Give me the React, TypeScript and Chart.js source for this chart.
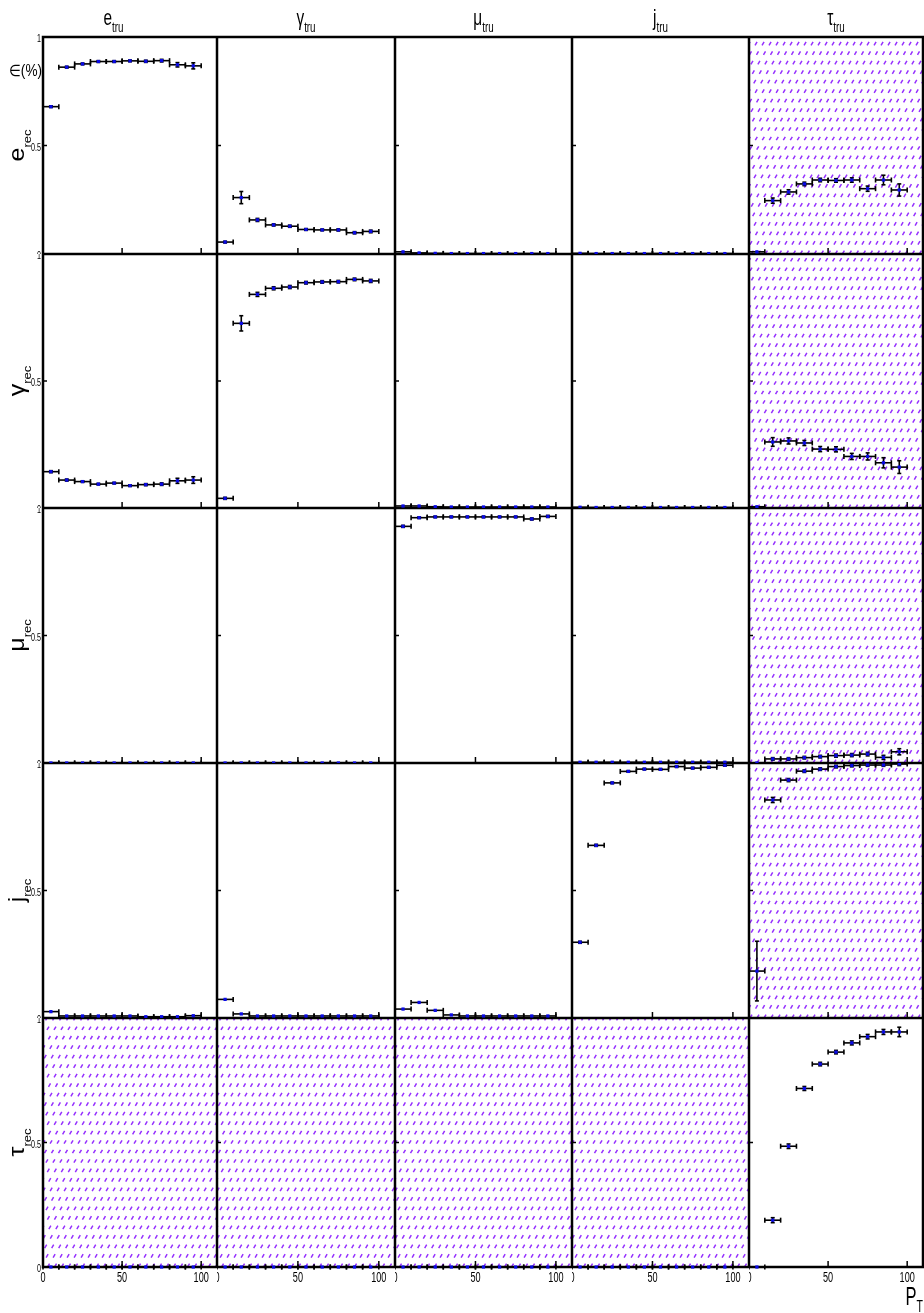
import React, { useEffect, useRef } from 'react';
import { Chart, registerables } from 'chart.js';

Chart.register(...registerables);

// ---------------- data ----------------
const PARTICLES = ['e', 'γ', 'μ', 'j', 'τ'];
const BIN_CENTERS = [5, 15, 25, 35, 45, 55, 65, 75, 85, 95];
const BIN_HALF_WIDTH = 5;
const X_TICKS = [0, 50, 100];
const Y_TICKS = [0, 0.5, 1];

// e_rec
const E_REC_E_TRU = [0.679, 0.861, 0.876, 0.887, 0.887, 0.89, 0.888, 0.891, 0.872, 0.867];
const E_REC_G_TRU = [0.055, 0.26, 0.157, 0.134, 0.128, 0.113, 0.111, 0.111, 0.098, 0.104];
const E_REC_M_TRU = [0.01, 0.005, 0.003, 0.002, 0.002, 0.002, 0.002, 0.002, 0.002, 0.002];
const E_REC_J_TRU = [0.003, 0.002, 0.002, 0.002, 0.002, 0.002, 0.002, 0.002, 0.002, 0.002];
const E_REC_T_TRU = [0.01, 0.246, 0.286, 0.323, 0.341, 0.339, 0.341, 0.301, 0.341, 0.295];
// gamma_rec
const G_REC_E_TRU = [0.143, 0.11, 0.104, 0.094, 0.098, 0.088, 0.092, 0.094, 0.107, 0.11];
const G_REC_G_TRU = [0.038, 0.727, 0.841, 0.865, 0.87, 0.887, 0.89, 0.891, 0.9, 0.894];
const G_REC_M_TRU = [0.008, 0.008, 0.005, 0.004, 0.004, 0.004, 0.004, 0.004, 0.004, 0.004];
const G_REC_J_TRU = [0.003, 0.002, 0.002, 0.002, 0.002, 0.002, 0.002, 0.002, 0.002, 0.002];
const G_REC_T_TRU = [0.005, 0.26, 0.264, 0.256, 0.232, 0.231, 0.203, 0.203, 0.178, 0.161];
// mu_rec
const M_REC_E_TRU = [0, 0, 0, 0, 0, 0, 0, 0, 0, 0];
const M_REC_G_TRU = [0, 0, 0, 0, 0, 0, 0, 0, 0, 0];
const M_REC_M_TRU = [0.928, 0.962, 0.965, 0.965, 0.965, 0.965, 0.965, 0.965, 0.957, 0.967];
const M_REC_J_TRU = [0.003, 0.003, 0.003, 0.003, 0.003, 0.003, 0.003, 0.003, 0.003, 0.003];
const M_REC_T_TRU = [0, 0.016, 0.016, 0.021, 0.025, 0.029, 0.031, 0.035, 0.022, 0.044];
// j_rec
const J_REC_E_TRU = [0.025, 0.008, 0.008, 0.008, 0.008, 0.008, 0.005, 0.005, 0.005, 0.009];
const J_REC_G_TRU = [0.073, 0.016, 0.008, 0.008, 0.008, 0.008, 0.008, 0.008, 0.008, 0.008];
const J_REC_M_TRU = [0.035, 0.061, 0.03, 0.012, 0.008, 0.008, 0.008, 0.008, 0.008, 0.008];
const J_REC_J_TRU = [0.297, 0.677, 0.922, 0.967, 0.976, 0.975, 0.986, 0.98, 0.983, 0.991];
const J_REC_T_TRU = [0.184, 0.855, 0.933, 0.968, 0.976, 0.986, 0.99, 0.992, 0.992, 0.996];
// tau_rec
const T_REC_E_TRU = [0, 0, 0, 0, 0, 0, 0, 0, 0, 0];
const T_REC_G_TRU = [0, 0, 0, 0, 0, 0, 0, 0, 0, 0];
const T_REC_M_TRU = [0, 0, 0, 0, 0, 0, 0, 0, 0, 0];
const T_REC_J_TRU = [0, 0, 0, 0, 0, 0, 0, 0, 0, 0];
const T_REC_T_TRU = [0, 0.188, 0.485, 0.717, 0.815, 0.863, 0.9, 0.925, 0.944, 0.944];

// statistical errors (y)
const NO_ERR = [0, 0, 0, 0, 0, 0, 0, 0, 0, 0];
const E_REC_E_TRU_ERR = [0.004, 0.004, 0.004, 0.004, 0.004, 0.004, 0.005, 0.006, 0.01, 0.014];
const E_REC_G_TRU_ERR = [0.004, 0.028, 0.007, 0.005, 0.005, 0.004, 0.004, 0.005, 0.005, 0.006];
const E_REC_T_TRU_ERR = [0, 0.012, 0.01, 0.008, 0.008, 0.008, 0.01, 0.012, 0.022, 0.028];
const G_REC_E_TRU_ERR = [0.004, 0.004, 0.003, 0.003, 0.003, 0.003, 0.004, 0.005, 0.01, 0.013];
const G_REC_G_TRU_ERR = [0.004, 0.03, 0.008, 0.006, 0.006, 0.005, 0.005, 0.005, 0.005, 0.006];
const G_REC_T_TRU_ERR = [0, 0.017, 0.012, 0.01, 0.01, 0.01, 0.012, 0.014, 0.02, 0.025];
const M_REC_M_TRU_ERR = [0.004, 0.003, 0.003, 0.003, 0.003, 0.003, 0.003, 0.003, 0.004, 0.004];
const M_REC_T_TRU_ERR = [0, 0.005, 0.005, 0.005, 0.005, 0.006, 0.006, 0.007, 0.008, 0.012];
const J_REC_J_TRU_ERR = [0.004, 0.004, 0.003, 0.003, 0.003, 0.003, 0.003, 0.003, 0.003, 0.003];
const J_REC_T_TRU_ERR = [0.117, 0.01, 0.006, 0.005, 0.005, 0.005, 0.005, 0.005, 0.005, 0.006];
const T_REC_T_TRU_ERR = [0, 0.01, 0.009, 0.008, 0.007, 0.007, 0.008, 0.009, 0.01, 0.019];

const EFFICIENCY = [
  [E_REC_E_TRU, E_REC_G_TRU, E_REC_M_TRU, E_REC_J_TRU, E_REC_T_TRU],
  [G_REC_E_TRU, G_REC_G_TRU, G_REC_M_TRU, G_REC_J_TRU, G_REC_T_TRU],
  [M_REC_E_TRU, M_REC_G_TRU, M_REC_M_TRU, M_REC_J_TRU, M_REC_T_TRU],
  [J_REC_E_TRU, J_REC_G_TRU, J_REC_M_TRU, J_REC_J_TRU, J_REC_T_TRU],
  [T_REC_E_TRU, T_REC_G_TRU, T_REC_M_TRU, T_REC_J_TRU, T_REC_T_TRU],
];
const ERRORS = [
  [E_REC_E_TRU_ERR, E_REC_G_TRU_ERR, NO_ERR, NO_ERR, E_REC_T_TRU_ERR],
  [G_REC_E_TRU_ERR, G_REC_G_TRU_ERR, NO_ERR, NO_ERR, G_REC_T_TRU_ERR],
  [NO_ERR, NO_ERR, M_REC_M_TRU_ERR, NO_ERR, M_REC_T_TRU_ERR],
  [NO_ERR, NO_ERR, NO_ERR, J_REC_J_TRU_ERR, J_REC_T_TRU_ERR],
  [NO_ERR, NO_ERR, NO_ERR, NO_ERR, T_REC_T_TRU_ERR],
];
const HATCHED_PANELS = ['0-4', '1-4', '2-4', '3-4', '4-0', '4-1', '4-2', '4-3'];

// ---------------- layout / style ----------------
const PAGE_W = 924;
const PAGE_H = 1313;
const COL_EDGES = [43, 217, 395, 572, 749, 923];
const ROW_EDGES = [37, 254, 508, 763, 1018, 1267];
const FONT = "'Liberation Sans', Arial, Helvetica, sans-serif";
const HATCH_COLOR = '#9530ff';
const MARKER_COLOR = '#0a0ae6';

type Area = { left: number; right: number; top: number; bottom: number };

function drawHatch(ctx: CanvasRenderingContext2D, a: Area) {
  ctx.save();
  ctx.beginPath();
  ctx.rect(a.left, a.top, a.right - a.left, a.bottom - a.top);
  ctx.clip();
  ctx.strokeStyle = HATCH_COLOR;
  ctx.lineWidth = 1.5;
  ctx.setLineDash([4, 7]);
  const h = a.bottom - a.top;
  const dx = h / 1.7;
  for (let x0 = a.left - dx - 10; x0 < a.right + 10; x0 += 7) {
    ctx.beginPath();
    ctx.moveTo(x0, a.bottom);
    ctx.lineTo(x0 + dx, a.top);
    ctx.stroke();
  }
  ctx.restore();
}

function seg(ctx: CanvasRenderingContext2D, x1: number, y1: number, x2: number, y2: number) {
  ctx.beginPath();
  ctx.moveTo(x1, y1);
  ctx.lineTo(x2, y2);
  ctx.stroke();
}

function squeezedText(
  ctx: CanvasRenderingContext2D,
  text: string,
  x: number,
  y: number,
  size: number,
  sx: number,
  align: CanvasTextAlign,
  baseline: CanvasTextBaseline,
) {
  ctx.save();
  ctx.translate(x, y);
  ctx.scale(sx, 1);
  ctx.font = `${size}px ${FONT}`;
  ctx.textAlign = align;
  ctx.textBaseline = baseline;
  ctx.fillStyle = '#000';
  ctx.fillText(text, 0, 0);
  ctx.restore();
}

function subText(
  ctx: CanvasRenderingContext2D,
  main: string,
  sub: string,
  cx: number,
  baseY: number,
  mainSize: number,
  subSize: number,
  subShift: number,
  sx: number,
  align: 'center' | 'left',
) {
  ctx.save();
  ctx.translate(cx, baseY);
  ctx.scale(sx, 1);
  ctx.fillStyle = '#000';
  ctx.textBaseline = 'alphabetic';
  ctx.textAlign = 'left';
  ctx.font = `${mainSize}px ${FONT}`;
  const mw = ctx.measureText(main).width;
  ctx.font = `${subSize}px ${FONT}`;
  const sw = ctx.measureText(sub).width;
  const start = align === 'center' ? -(mw + sw) / 2 : 0;
  ctx.font = `${mainSize}px ${FONT}`;
  ctx.fillText(main, start, 0);
  ctx.font = `${subSize}px ${FONT}`;
  ctx.fillText(sub, start + mw, subShift);
  ctx.restore();
}

function rotatedSubText(
  ctx: CanvasRenderingContext2D,
  main: string,
  sub: string,
  baseX: number,
  cy: number,
  mainSize: number,
  subSize: number,
  subShift: number,
  squeeze: number,
) {
  ctx.save();
  ctx.fillStyle = '#000';
  ctx.font = `${mainSize}px ${FONT}`;
  const mw = ctx.measureText(main).width;
  ctx.font = `${subSize}px ${FONT}`;
  const sw = ctx.measureText(sub).width;
  ctx.translate(baseX, cy + (mw + sw) / 2);
  ctx.rotate(-Math.PI / 2);
  ctx.scale(1, squeeze);
  ctx.textAlign = 'left';
  ctx.textBaseline = 'alphabetic';
  ctx.font = `${mainSize}px ${FONT}`;
  ctx.fillText(main, 0, 0);
  ctx.font = `${subSize}px ${FONT}`;
  ctx.fillText(sub, mw, subShift);
  ctx.restore();
}

function makePanelPlugin(r: number, c: number) {
  const values = EFFICIENCY[r][c];
  const errors = ERRORS[r][c];
  const hatched = HATCHED_PANELS.includes(`${r}-${c}`);
  return {
    id: `panel-${r}-${c}`,
    beforeDatasetsDraw(chart: any) {
      const ctx: CanvasRenderingContext2D = chart.ctx;
      const a: Area = chart.chartArea;
      const xs = chart.scales.x;
      const ys = chart.scales.y;
      ctx.save();
      if (hatched) drawHatch(ctx, a);
      // frame
      ctx.strokeStyle = '#000';
      ctx.lineWidth = 2.5;
      ctx.strokeRect(a.left, a.top, a.right - a.left, a.bottom - a.top);
      // tick marks
      ctx.lineWidth = 1.5;
      for (const t of xs.ticks) {
        const px = xs.getPixelForValue(t.value);
        seg(ctx, px, a.bottom, px, a.bottom - 6);
      }
      for (const t of ys.ticks) {
        const py = ys.getPixelForValue(t.value);
        seg(ctx, a.left, py, a.left + 4, py);
      }
      // error bars
      ctx.lineWidth = 1.6;
      BIN_CENTERS.forEach((xc, i) => {
        const v = values[i];
        const e = errors[i];
        const py = ys.getPixelForValue(v);
        const p0 = xs.getPixelForValue(xc - BIN_HALF_WIDTH);
        const p1 = xs.getPixelForValue(xc + BIN_HALF_WIDTH);
        const pc = xs.getPixelForValue(xc);
        seg(ctx, p0, py, p1, py);
        seg(ctx, p0, py - 2.5, p0, py + 2.5);
        seg(ctx, p1, py - 2.5, p1, py + 2.5);
        if (e > 0) {
          const pt = ys.getPixelForValue(v + e);
          const pb = ys.getPixelForValue(Math.max(0, v - e));
          seg(ctx, pc, pt, pc, pb);
          seg(ctx, pc - 2, pt, pc + 2, pt);
          seg(ctx, pc - 2, pb, pc + 2, pb);
        }
      });
      ctx.restore();
    },
    afterDraw(chart: any) {
      const ctx: CanvasRenderingContext2D = chart.ctx;
      const a: Area = chart.chartArea;
      const xs = chart.scales.x;
      const ys = chart.scales.y;
      ctx.save();
      if (c === 0) {
        for (const t of ys.ticks) {
          const py = ys.getPixelForValue(t.value);
          squeezedText(ctx, String(t.value), a.left - 2, py + 2, 11, 0.65, 'right', 'middle');
        }
        rotatedSubText(ctx, PARTICLES[r], 'rec', 24, ys.getPixelForValue(0.5), 25, 13, 8, 0.9);
      }
      if (r === 4) {
        for (const t of xs.ticks) {
          const px = xs.getPixelForValue(t.value);
          squeezedText(ctx, String(t.value), px, a.bottom + 11, 14, 0.65, 'center', 'middle');
        }
      }
      if (r === 0) {
        const cx = (a.left + a.right) / 2 - (c === 0 ? 16.5 : 0);
        subText(ctx, PARTICLES[c], 'tru', cx, 25, 22, 14, 7, 0.7, 'center');
      }
      if (r === 0 && c === 0) {
        squeezedText(ctx, '∈(%)', a.left - 1, 72, 16, 0.85, 'right', 'middle');
      }
      if (r === 4 && c === 4) {
        subText(ctx, 'P', 'T', 905.5 - 749, a.bottom + 38, 25, 16, 7, 0.66, 'left');
      }
      ctx.restore();
    },
  };
}

function Panel({ r, c }: { r: number; c: number }) {
  const ref = useRef<HTMLCanvasElement>(null);
  const left = c === 0 ? 0 : COL_EDGES[c];
  const right = c === 4 ? PAGE_W : COL_EDGES[c + 1];
  const top = r === 0 ? 0 : ROW_EDGES[r];
  const bottom = r === 4 ? PAGE_H : ROW_EDGES[r + 1];
  const w = right - left;
  const h = bottom - top;

  useEffect(() => {
    if (!ref.current) return;
    const values = EFFICIENCY[r][c];
    const chart = new Chart(ref.current, {
      type: 'scatter',
      data: {
        datasets: [
          {
            data: BIN_CENTERS.map((x, i) => ({ x, y: values[i] })),
            pointStyle: 'rect',
            pointRadius: 2.3,
            pointHoverRadius: 2.3,
            backgroundColor: MARKER_COLOR,
            borderColor: MARKER_COLOR,
            borderWidth: 0,
            showLine: false,
            clip: false as any,
          },
        ],
      },
      options: {
        animation: false,
        responsive: false,
        devicePixelRatio: 1,
        events: [],
        layout: {
          autoPadding: false,
          padding: {
            left: COL_EDGES[c] - left,
            right: right - COL_EDGES[c + 1],
            top: ROW_EDGES[r] - top,
            bottom: bottom - ROW_EDGES[r + 1],
          },
        },
        plugins: { legend: { display: false }, tooltip: { enabled: false } },
        scales: {
          x: {
            type: 'linear',
            min: 0,
            max: 110,
            display: false,
            afterBuildTicks: (s: any) => {
              s.ticks = X_TICKS.map((v) => ({ value: v }));
            },
          },
          y: {
            type: 'linear',
            min: 0,
            max: 1,
            display: false,
            afterBuildTicks: (s: any) => {
              s.ticks = Y_TICKS.map((v) => ({ value: v }));
            },
          },
        },
      },
      plugins: [makePanelPlugin(r, c)],
    } as any);
    return () => chart.destroy();
  }, [r, c]);

  return (
    <canvas
      ref={ref}
      width={w}
      height={h}
      style={{ position: 'absolute', left, top, width: w, height: h, display: 'block' }}
    />
  );
}

export default function App() {
  const panels = [];
  for (let r = 0; r < 5; r++) {
    for (let c = 0; c < 5; c++) {
      panels.push(<Panel key={`${r}-${c}`} r={r} c={c} />);
    }
  }
  return (
    <div
      style={{
        position: 'absolute',
        left: 0,
        top: 0,
        width: PAGE_W,
        height: PAGE_H,
        background: '#fff',
        overflow: 'hidden',
      }}
    >
      {panels}
    </div>
  );
}
